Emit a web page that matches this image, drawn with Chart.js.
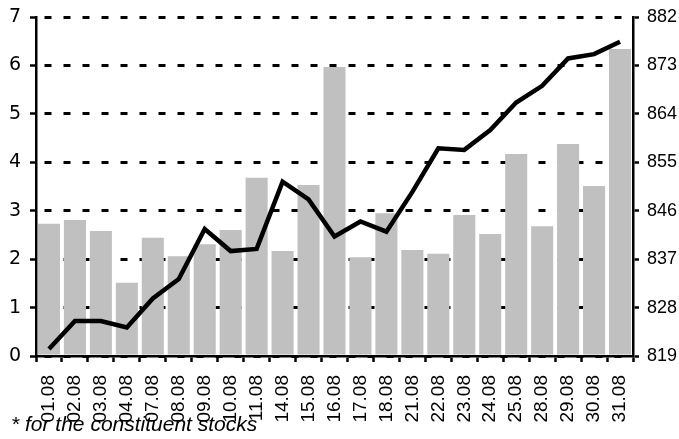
<!DOCTYPE html>
<html>
<head>
<meta charset="utf-8">
<script src="https://cdn.jsdelivr.net/npm/chart.js@4/dist/chart.umd.min.js"></script>
<style>
  html, body { margin: 0; padding: 0; background: #fff; }
  #wrap { position: relative; width: 679px; height: 439px; }
  #note { position: absolute; left: 11px; top: 412px; font: italic 21px 'Liberation Sans', Arial, sans-serif; color: #000; white-space: nowrap; }
</style>
</head>
<body>
<div id="wrap">
  <canvas id="c" width="679" height="439"></canvas>
  <div id="note">* for the constituent stocks</div>
</div>
<script>
const categories = ['01.08','02.08','03.08','04.08','07.08','08.08','09.08','10.08','11.08','14.08','15.08','16.08','17.08','18.08','21.08','22.08','23.08','24.08','25.08','28.08','29.08','30.08','31.08'];
const barValues = [2.73,2.81,2.58,1.51,2.44,2.06,2.31,2.60,3.68,2.17,3.53,5.97,2.04,2.95,2.19,2.11,2.91,2.52,4.17,2.68,4.38,3.51,6.34];
const lineValues = [820.3,825.5,825.5,824.3,829.7,833.3,842.6,838.5,838.9,851.4,848.1,841.2,844.0,842.1,849.5,857.6,857.3,861.0,866.1,869.2,874.3,875.1,877.4];
const leftTicks = [0,1,2,3,4,5,6,7];
const rightTicks = [819,828,837,846,855,864,873,882];

new Chart(document.getElementById('c'), {
  data: {
    labels: categories,
    datasets: [
      {
        type: 'line',
        data: lineValues,
        yAxisID: 'y1',
        borderColor: '#000',
        borderWidth: 4.5,
        pointRadius: 0,
        tension: 0,
        order: 0
      },
      {
        type: 'bar',
        data: barValues,
        yAxisID: 'y',
        backgroundColor: '#c0c0c0',
        borderWidth: 0,
        categoryPercentage: 1,
        barPercentage: 0.85,
        order: 1
      }
    ]
  },
  options: {
    responsive: false,
    animation: false,
    devicePixelRatio: 1,
    layout: { padding: { top: 17, left: 0, right: 0, bottom: 0 } },
    plugins: { legend: { display: false }, tooltip: { enabled: false }, title: { display: false } },
    scales: {
      x: {
        offset: true,
        grid: { display: true, drawOnChartArea: false, drawTicks: true, tickLength: 6, tickColor: '#000', tickWidth: 2.5, offset: true },
        border: { display: true, color: '#000', width: 2.5 },
        ticks: {
          color: '#000', font: { family: 'Liberation Sans', size: 19 },
          maxRotation: 90, minRotation: 90, autoSkip: false, padding: 13
        },
        afterFit: (s) => { s.height = 83; s.paddingLeft = 0; s.paddingRight = 0; }
      },
      y: {
        position: 'left',
        min: 0, max: 7,
        afterBuildTicks: (s) => { s.ticks = leftTicks.map(v => ({ value: v })); },
        grid: { color: '#000', lineWidth: 3, drawTicks: true, tickLength: 6, tickColor: '#000', tickWidth: 2.5, tickBorderDash: [] },
        border: { display: true, color: '#000', width: 2.5, dash: [7, 12], dashOffset: 12 },
        ticks: { color: '#000', font: { family: 'DejaVu Sans', size: 19 }, padding: 9 },
        afterFit: (s) => { s.width = 36; s.paddingTop = 0; s.paddingBottom = 0; }
      },
      y1: {
        position: 'right',
        min: 819, max: 882,
        afterBuildTicks: (s) => { s.ticks = rightTicks.map(v => ({ value: v })); },
        grid: { drawOnChartArea: false, drawTicks: true, tickLength: 6, tickColor: '#000', tickWidth: 2.5 },
        border: { display: true, color: '#000', width: 2.5 },
        ticks: { color: '#000', font: { family: 'Liberation Sans', size: 18 }, padding: 8 },
        afterFit: (s) => { s.width = 46; s.paddingTop = 0; s.paddingBottom = 0; }
      }
    }
  }
});
</script>
</body>
</html>
